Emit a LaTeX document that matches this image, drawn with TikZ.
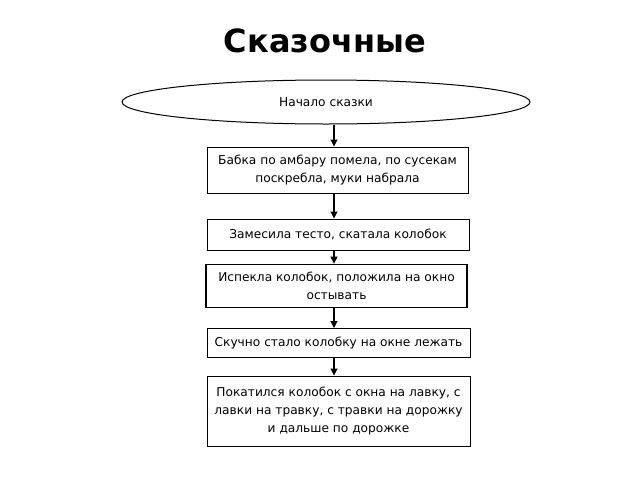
\documentclass[tikz,border=0pt]{standalone}
\usepackage{fontspec}
\setmainfont{DejaVu Sans}
\usetikzlibrary{shapes.geometric,arrows.meta}
\begin{document}
\begin{tikzpicture}[x=1pt,y=-1pt,
  stepbox/.style={draw=black,line width=1pt,rectangle,inner sep=0pt,align=center,font=\fontsize{12.2}{18}\selectfont,text=black},
  startell/.style={draw=black,line width=1pt,ellipse,inner sep=0pt,font=\fontsize{12.2}{14}\selectfont,text=black},
  arr/.style={line width=1.1pt,-{Triangle[length=7pt,width=7pt]}}]
\useasboundingbox (0,0) rectangle (640,480);
\node[font=\fontsize{32}{36}\bfseries\selectfont,anchor=base] (title) at (325,52) {Сказочные};
\node[startell,minimum width=408,minimum height=44] (ell) at (326,102) {Начало сказки};
\node[stepbox,minimum width=261,minimum height=46] (b1) at (337.5,170) {Бабка по амбару помела, по сусекам\\поскребла, муки набрала};
\node[stepbox,minimum width=262,minimum height=31] (b2) at (338,234.5) {Замесила тесто, скатала колобок};
\node[stepbox,line width=1.8pt,minimum width=261,minimum height=43] (b3) at (336.5,286) {Испекла колобок, положила на окно\\остывать};
\node[stepbox,minimum width=263,minimum height=29] (b4) at (338.5,343) {Скучно стало колобку на окне лежать};
\node[stepbox,minimum width=263,minimum height=70] (b5) at (338.5,411) {Покатился колобок с окна на лавку, с\\лавки на травку, с травки на дорожку\\и дальше по дорожке};
\coordinate (ax) at (334,0);
\draw[arr] (ell.south -| ax) -- (b1.north -| ax);
\draw[arr] (b1.south -| ax) -- (b2.north -| ax);
\draw[arr] (b2.south -| ax) -- (b3.north -| ax);
\draw[arr] (b3.south -| ax) -- (b4.north -| ax);
\draw[arr] (b4.south -| ax) -- (b5.north -| ax);
\end{tikzpicture}
\end{document}
